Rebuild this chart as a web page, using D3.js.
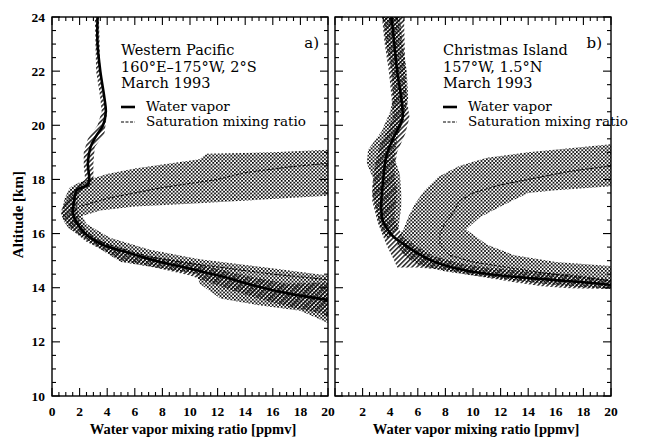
<!DOCTYPE html>
<html lang="en">
<head>
  <meta charset="UTF-8">
  <title>Water vapor profiles</title>
  <style>
    body { margin: 0; background: #ffffff; }
    svg { background-color: #ffffff; }
    .tick-label { font-family: "Liberation Serif", serif; font-weight: bold; font-size: 13.5px; }
    .axis-title { font-family: "Liberation Serif", serif; font-weight: bold; font-size: 14.5px; }
    .note { font-family: "DejaVu Serif", serif; font-size: 14.5px; }
    .legend { font-family: "DejaVu Serif", serif; font-size: 13.5px; }
  </style>
  <script type="text/javascript" src="https://d3js.org/d3.v7.min.js"></script>
</head>
<body>
<script type="text/javascript">

  // ---- data (ppmv, km) ----
  var xTicks = [0, 2, 4, 6, 8, 10, 12, 14, 16, 18, 20];
  var yTicks = [10, 12, 14, 16, 18, 20, 22, 24];

  // panel a) Western Pacific
  var wvAltA = [24, 23, 22, 21, 20.5, 20, 19.6, 19.2, 18.6, 18, 17.8, 17.6, 17.2, 16.8, 16.4, 16, 15.6, 15.3, 15, 14.7, 14.4, 14.1, 13.8, 13.55];
  var wvA    = [3.3, 3.3, 3.5, 3.8, 3.9, 3.7, 3.2, 2.8, 2.6, 2.7, 2.6, 1.8, 1.6, 1.5, 1.8, 2.4, 3.6, 5.5, 7.5, 10, 12.5, 14.5, 17, 20];
  var satA = [[20, 18.6], [17, 18.45], [14, 18.25], [12, 18.0], [10, 17.85], [8, 17.7], [6, 17.5], [4, 17.3], [3, 17.15], [2, 17.0],
              [1.6, 16.8], [1.5, 16.6], [1.7, 16.4], [2.3, 16.0], [3.5, 15.7], [5, 15.45], [7, 15.15], [10, 14.9], [13, 14.7], [16, 14.5], [20, 14.3]];
  var satBandA = [[20, 19.1], [16, 19.0], [11.2, 18.95], [10.7, 18.75], [8, 18.55], [6, 18.4], [4, 18.2], [2, 17.9], [1.3, 17.7], [0.9, 17.3], [0.7, 16.7],
                  [0.8, 16.5], [1.2, 16.2], [2, 15.95], [3, 15.6], [4.2, 15.2], [5, 14.95], [8, 14.7], [10.5, 14.5], [10.7, 14.15], [12.2, 13.6], [15, 13.35], [18, 13.15], [20, 12.7],
                  [20, 14.45], [15.5, 14.75], [10.7, 15.05], [7.1, 15.4], [4.2, 15.85], [2.5, 16.35], [2.2, 16.65],
                  [3.5, 16.85], [6, 17.0], [10, 17.1], [15, 17.25], [20, 17.4]];
  var wvBandA = [[3.1, 24], [3.2, 22], [3.5, 21], [3.6, 20.5], [3.3, 20], [2.6, 19.5], [2.3, 19], [2.3, 18.5], [2.4, 18], [1.5, 17.6], [1.0, 17.2], [0.6, 16.8],
                 [0.9, 16.5], [1.5, 16.1], [2.5, 15.7], [4, 15.3], [5, 15.0], [7, 14.8], [10, 14.45], [12.5, 14.0], [14, 13.75], [16, 13.45], [18, 13.2], [20, 13.0],
                 [20, 14.2], [17, 14.15], [14, 14.45], [12, 14.7], [10, 14.95], [7, 15.15], [5, 15.4], [3.5, 15.75], [2.5, 16.1], [2, 16.5], [1.8, 17], [2.0, 17.5],
                 [2.8, 17.8], [3.0, 18], [3.0, 18.6], [3.1, 19.2], [3.8, 19.7], [4.0, 20.5], [3.7, 21], [3.5, 22], [3.4, 24]];

  // panel b) Christmas Island
  var wvAltB = [24, 23, 22, 21, 20.3, 20, 19.5, 19, 18.5, 18, 17.5, 17, 16.5, 16.2, 15.9, 15.6, 15.3, 15, 14.75, 14.55, 14.45, 14.3, 14.2, 14.1];
  var wvB    = [4.1, 4.3, 4.5, 4.8, 4.9, 4.7, 4.2, 3.8, 3.6, 3.5, 3.4, 3.35, 3.45, 3.75, 4.2, 5.0, 5.9, 7.0, 8.5, 10.5, 12, 15.5, 18, 20];
  var satB = [[20, 18.5], [17, 18.3], [15, 18.1], [12, 17.8], [10, 17.5], [9, 17.2], [8.6, 16.8], [8.0, 16.4], [7.6, 16.0], [7.6, 15.6], [8.3, 15.2],
              [10, 14.95], [12.5, 14.75], [15, 14.55], [17.5, 14.4], [20, 14.25]];
  var satBandB = [[20, 19.3], [17, 19.15], [14, 19.0], [11, 18.8], [9, 18.5], [7.5, 18.1], [6.5, 17.6], [5.8, 17.1], [5.3, 16.6], [5.0, 16.2], [4.6, 15.9], [4.5, 15.6],
                  [5.0, 15.2], [6, 14.85], [8, 14.6], [10, 14.45], [12.5, 14.3], [15, 14.15], [17, 14.05], [20, 13.95],
                  [20, 14.8], [16, 14.95], [13, 15.2], [11, 15.6], [9.5, 16.15],
                  [10.5, 16.6], [12, 17.0], [14, 17.5], [16, 17.6], [20, 17.75]];
  var wvBandB = [[3.4, 24], [3.6, 23], [3.9, 22], [4.1, 21], [4.2, 20.3], [3.8, 19.8], [3.2, 19.2], [2.9, 18.5], [2.7, 17.8], [2.7, 17.2], [2.9, 16.8], [3.1, 16.4],
                 [3.4, 16.0], [3.8, 15.5], [4.3, 15.0], [4.5, 14.75], [6, 14.75], [8, 14.65], [10, 14.45], [13, 14.2], [15, 14.05], [17, 13.98], [20, 13.95],
                 [20, 14.3], [17, 14.5], [14, 14.6], [11, 14.75], [9, 14.9], [7, 15.2], [6, 15.5], [5, 15.85], [4.6, 16.2], [4.3, 16.6], [4.4, 17], [4.5, 17.6],
                 [4.3, 18.3], [4.5, 19], [5.1, 19.7], [5.4, 20.3], [5.2, 21], [5.1, 22], [5.0, 24]];
  var wvDotsB = [[3.5, 24], [3.7, 23], [4.1, 22], [4.2, 21], [4.0, 20.5], [3.4, 19.8], [2.4, 19.1], [2.3, 18.6], [2.8, 18.0], [2.7, 17.5], [3.0, 16.8], [3.3, 16.2], [3.8, 15.8],
                 [4.6, 16.2], [4.8, 17.0], [4.8, 17.5], [4.7, 18.2], [4.3, 18.8], [4.5, 19.5], [5.0, 20.2], [5.3, 21], [5.2, 22], [4.9, 23], [4.7, 24]];

  var panels = [
    {id: "a", range: [52, 328], wvAlt: wvAltA, wv: wvA, sat: satA, satBand: satBandA, wvBand: wvBandA, dots: null, noteDx: 69,
     notes: ["Western Pacific", "160\u00B0E\u2013175\u00B0W, 2\u00B0S", "March 1993"], tag: "a)", yLabels: true, firstX: 0},
    {id: "b", range: [335, 611], wvAlt: wvAltB, wv: wvB, sat: satB, satBand: satBandB, wvBand: wvBandB, dots: wvDotsB, noteDx: 108,
     notes: ["Christmas Island", "157\u00B0W, 1.5\u00B0N", "March 1993"], tag: "b)", yLabels: false, firstX: 2}
  ];

  var W = 649, H = 438;
  var svg = d3.select("body").append("svg").attr("width", W).attr("height", H);

  var y = d3.scaleLinear().domain([10, 24]).range([396, 17]);

  var defs = svg.append("defs");
  var stip = defs.append("pattern").attr("id", "stipple").attr("patternUnits", "userSpaceOnUse")
    .attr("width", 3.6).attr("height", 3.6);
  stip.append("rect").attr("x", 0).attr("y", 0).attr("width", 1.7).attr("height", 1.7).attr("fill", "#000");
  stip.append("rect").attr("x", 1.8).attr("y", 1.8).attr("width", 1.7).attr("height", 1.7).attr("fill", "#000");

  var hatch = defs.append("pattern").attr("id", "hatch").attr("patternUnits", "userSpaceOnUse")
    .attr("width", 3.4).attr("height", 3.4).attr("patternTransform", "rotate(45)");
  hatch.append("line").attr("x1", 0.8).attr("y1", 0).attr("x2", 0.8).attr("y2", 3.4)
    .attr("stroke", "#000").attr("stroke-width", 1.3);

  panels.forEach(function(p) {
    var x = d3.scaleLinear().domain([0, 20]).range(p.range);
    var g = svg.append("g").attr("id", "panel-" + p.id);

    defs.append("clipPath").attr("id", "clip-" + p.id).append("rect")
      .attr("x", p.range[0]).attr("y", y(24)).attr("width", p.range[1] - p.range[0]).attr("height", y(10) - y(24));

    var plot = g.append("g").attr("clip-path", "url(#clip-" + p.id + ")");
    var area = d3.line().x(function(d) { return x(d[0]); }).y(function(d) { return y(d[1]); });

    plot.append("path").attr("d", area(p.satBand) + "Z").attr("fill", "url(#stipple)");
    if (p.dots) plot.append("path").attr("d", area(p.dots) + "Z").attr("fill", "url(#stipple)");
    plot.append("path").attr("d", area(p.wvBand) + "Z").attr("fill", "url(#hatch)");

    plot.append("path").attr("d", area(p.sat)).attr("fill", "none")
      .attr("stroke", "#000").attr("stroke-width", 1).attr("stroke-dasharray", "3,1.5");

    var wvPts = p.wv.map(function(v, i) { return [v, p.wvAlt[i]]; });
    plot.append("path").attr("d", d3.line().curve(d3.curveCatmullRom)
        .x(function(d) { return x(d[0]); }).y(function(d) { return y(d[1]); })(wvPts))
      .attr("fill", "none").attr("stroke", "#000").attr("stroke-width", 2.6);

    // axes, ticks inward on all four sides
    var x0 = p.range[0], x1 = p.range[1];
    g.append("rect").attr("x", x0).attr("y", y(24)).attr("width", x1 - x0).attr("height", y(10) - y(24))
      .attr("fill", "none").attr("stroke", "#000").attr("stroke-width", 1.4);

    var xMinor = d3.range(0, 20.01, 0.5);
    xMinor.forEach(function(v) {
      var major = Math.abs(v % 2) < 1e-6;
      var len = major ? 8 : 4;
      g.append("line").attr("x1", x(v)).attr("x2", x(v)).attr("y1", y(10)).attr("y2", y(10) - len)
        .attr("stroke", "#000").attr("stroke-width", 1.1);
      g.append("line").attr("x1", x(v)).attr("x2", x(v)).attr("y1", y(24)).attr("y2", y(24) + len)
        .attr("stroke", "#000").attr("stroke-width", 1.1);
    });
    var yMinor = d3.range(10, 24.01, 0.5);
    yMinor.forEach(function(v) {
      var major = Math.abs(v % 2) < 1e-6;
      var len = major ? 8 : 4;
      g.append("line").attr("x1", x0).attr("x2", x0 + len).attr("y1", y(v)).attr("y2", y(v))
        .attr("stroke", "#000").attr("stroke-width", 1.1);
      g.append("line").attr("x1", x1).attr("x2", x1 - len).attr("y1", y(v)).attr("y2", y(v))
        .attr("stroke", "#000").attr("stroke-width", 1.1);
    });

    g.selectAll(".xl").data(xTicks.filter(function(t) { return t >= p.firstX; })).enter()
      .append("text").attr("class", "tick-label")
      .attr("x", function(d) { return x(d); }).attr("y", 416)
      .attr("text-anchor", "middle").text(function(d) { return d; });

    if (p.yLabels) {
      g.selectAll(".yl").data(yTicks).enter()
        .append("text").attr("class", "tick-label")
        .attr("x", x0 - 7).attr("y", function(d) { return y(d) + 4.5; })
        .attr("text-anchor", "end").text(function(d) { return d; });
    }

    g.append("text").attr("class", "axis-title")
      .attr("x", (x0 + x1) / 2 + 3).attr("y", 434).attr("text-anchor", "middle")
      .text("Water vapor mixing ratio [ppmv]");

    // annotation
    var nx = x0 + p.noteDx;
    p.notes.forEach(function(t, i) {
      g.append("text").attr("class", "note").attr("x", nx).attr("y", 55 + i * 16.5).text(t);
    });
    g.append("text").attr("class", "note").attr("x", x1 - 9).attr("y", 48).attr("text-anchor", "end")
      .style("font-size", "15px").text(p.tag);

    g.append("line").attr("x1", nx).attr("x2", nx + 14).attr("y1", 107).attr("y2", 107)
      .attr("stroke", "#000").attr("stroke-width", 2.6);
    g.append("line").attr("x1", nx).attr("x2", nx + 14).attr("y1", 122).attr("y2", 122)
      .attr("stroke", "#000").attr("stroke-width", 1).attr("stroke-dasharray", "3,1.5");
    g.append("text").attr("class", "legend").attr("x", nx + 25).attr("y", 111).text("Water vapor");
    g.append("text").attr("class", "legend").attr("x", nx + 25).attr("y", 126).text("Saturation mixing ratio");
  });

  svg.append("text").attr("class", "axis-title")
    .style("font-size", "15px")
    .attr("transform", "translate(23," + y(16.7) + ") rotate(-90)")
    .attr("text-anchor", "middle").text("Altitude [km]");

</script>
</body>
</html>
